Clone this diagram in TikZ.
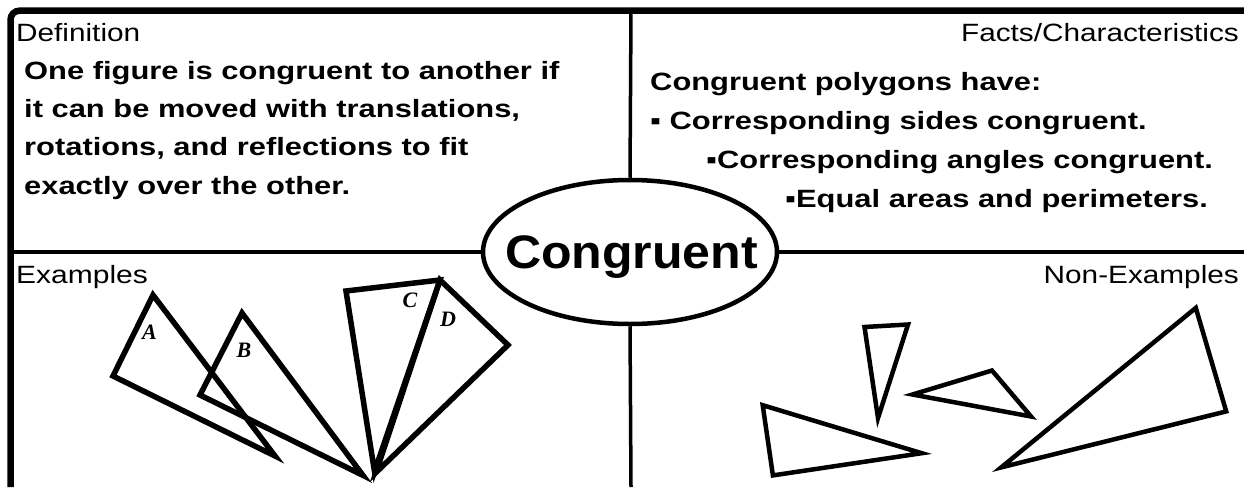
\documentclass[tikz,border=0pt]{standalone}
\usepackage{fontspec}
\setmainfont{Liberation Sans}
\newfontfamily\labserif{Liberation Serif}
\usetikzlibrary{shapes.geometric}
\newcommand{\hs}[2]{\scalebox{#1}[1]{#2}}
\begin{document}
\begin{tikzpicture}[x=1pt,y=-1pt,
  frame/.style={line width=6.5pt, rounded corners=9pt},
  divider/.style={line width=3.5pt},
  lbl/.style={inner sep=0pt, font=\fontsize{25}{30}\selectfont},
  body/.style={inner sep=0pt, anchor=base west, font=\fontsize{25}{30}\selectfont\bfseries},
  tri/.style={line width=5.5pt},
  ntri/.style={line width=4.5pt},
  tlabel/.style={inner sep=0pt, font=\fontsize{22}{26}\selectfont\labserif\bfseries\itshape}]
\useasboundingbox (0,0) rectangle (1244,487);
\fill[white] (0,0) rectangle (1244,487);
% frame
\draw[frame] (10.5,487) |- (1244,10.7);
% central oval
\node[draw, ellipse, line width=4.5pt, minimum width=294pt, minimum height=144pt, inner sep=0pt] (oval) at (630,252) {};
\node[anchor=base, inner sep=0pt, font=\fontsize{47}{50}\selectfont\bfseries] (word) at (631.5,268) {\hs{1.065}{Congruent}};
% dividers
\coordinate (vtop) at (631,10.7);
\coordinate (vbot) at (631,487);
\coordinate (hleft) at (10.5,252);
\coordinate (hright) at (1244,252);
\draw[divider] (vtop) -- (oval.north);
\draw[divider] (oval.south) -- (vbot);
\draw[divider] (hleft) -- (oval.west);
\draw[divider] (oval.east) -- (hright);
% definition
\node[lbl, anchor=base west] (defh) at (16,42) {\hs{1.19}{Definition}};
\node[body] (d1) at (24,79) {\hs{1.235}{One figure is congruent to another if}};
\node[body] (d2) at (24,117) {\hs{1.235}{it can be moved with translations,}};
\node[body] (d3) at (24,155) {\hs{1.235}{rotations, and reflections to fit}};
\node[body] (d4) at (24,194) {\hs{1.235}{exactly over the other.}};
% facts
\node[lbl, anchor=base east] (facth) at (1239,42) {\hs{1.19}{Facts/Characteristics}};
\node[body] (f1) at (650,90) {\hs{1.235}{Congruent polygons have:}};
\node[body] (f2) at (650,129) {\hs{1.235}{▪ Corresponding sides congruent.}};
\node[body] (f3) at (706,168) {\hs{1.235}{▪Corresponding angles congruent.}};
\node[body] (f4) at (785,207) {\hs{1.235}{▪Equal areas and perimeters.}};
% examples
\node[lbl, anchor=base west] (exh) at (16,283) {\hs{1.2}{Examples}};
\draw[tri] (153,295) -- (113,376) -- (275,456) -- cycle;
\draw[tri] (242,313) -- (200,395) -- (363,475.4) -- cycle;
\draw[tri] (346,291) -- (440,280) -- (374.5,471.5) -- cycle;
\draw[tri] (440,280) -- (508,345) -- (376,472.5) -- cycle;
\node[tlabel] (la) at (149.5,332.5) {A};
\node[tlabel] (lb) at (244,350) {B};
\node[tlabel] (lc) at (410,300) {C};
\node[tlabel] (ld) at (448,319) {D};
% non-examples
\node[lbl, anchor=base east] (nexh) at (1239,283) {\hs{1.19}{Non-Examples}};
\draw[ntri] (864.5,327) -- (908,324.5) -- (878,418) -- cycle;
\draw[ntri] (912.5,394.5) -- (992,370.5) -- (1031,416.5) -- cycle;
\draw[ntri] (762.7,405.2) -- (921.7,453.2) -- (772.9,475.4) -- cycle;
\draw[ntri] (1195.8,307.9) -- (1226.2,411.4) -- (1001.2,467.4) -- cycle;
\end{tikzpicture}
\end{document}
